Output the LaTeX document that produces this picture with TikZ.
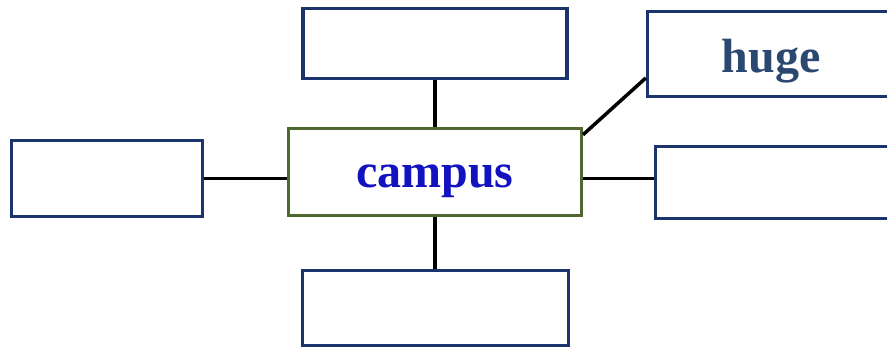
\documentclass[tikz,border=0pt]{standalone}
\usepackage{fontspec}
\setmainfont{Liberation Serif}
\usepackage{xcolor}
\definecolor{boxblue}{RGB}{28,52,110}
\definecolor{boxgreen}{RGB}{78,104,48}
\definecolor{campusblue}{RGB}{18,18,190}
\definecolor{hugeblue}{RGB}{42,72,112}
\tikzset{
  BoxStyle/.style={draw=boxblue, line width=3.5pt, fill=white, inner sep=0pt},
  CenterStyle/.style={draw=boxgreen, line width=3pt, fill=white, inner sep=0pt},
  WordStyle/.style={font=\fontsize{48}{58}\selectfont\bfseries, text depth=0pt},
  EdgeStyle/.style={line width=3.5pt, black}
}

\begin{document}
\begin{tikzpicture}[x=1pt,y=-1pt]
\useasboundingbox (0,0) rectangle (887,349);
\node[CenterStyle, WordStyle, minimum width=293pt, minimum height=87.5pt, text=campusblue, text height=30pt] (campus) at (435,172) {campus};
\node[BoxStyle, minimum width=264pt, minimum height=70pt] (up) at (435,43.5) {};
\node[BoxStyle, WordStyle, minimum width=247pt, minimum height=85pt, text=hugeblue, text height=36pt] (huge) at (771,54) {huge};
\node[BoxStyle, minimum width=191pt, minimum height=76pt] (left) at (107,178.5) {};
\node[BoxStyle, minimum width=250pt, minimum height=72pt] (right) at (780.5,182.5) {};
\node[BoxStyle, minimum width=266pt, minimum height=75pt] (down) at (435.5,308) {};
\draw[EdgeStyle] (up.south) -- (up.south |- campus.north);
\draw[EdgeStyle] (up.south |- campus.south) -- (up.south |- down.north);
\draw[EdgeStyle] (left.east) -- (left.east -| campus.west);
\draw[EdgeStyle] (left.east -| campus.east) -- (left.east -| right.west);
\draw[EdgeStyle] ([yshift=-8pt]campus.north east) -- ([yshift=-24pt]huge.west);
\end{tikzpicture}
\end{document}
